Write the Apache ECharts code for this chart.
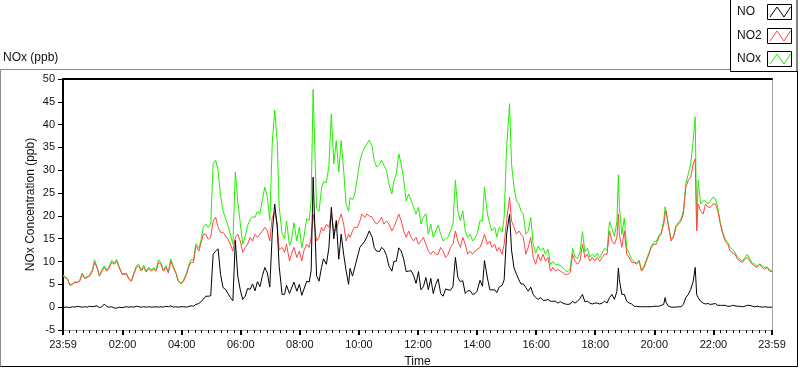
<!DOCTYPE html>
<html><head><meta charset="utf-8">
<script src="https://cdn.jsdelivr.net/npm/echarts@6/dist/echarts.min.js"></script>
<style>html,body{margin:0;padding:0;background:#fff}#c{width:800px;height:369px}</style>
</head><body><div id="c"></div>
<script>
// minutes after 23:59 (start of record)
const times = [
0,4,9,14,19,24,29,34,39,44,49,54,60,64,69,74,79,84,89,94,99,104,109,114,120,124,129,134,139,144,149,154,159,164,169,174,180,184,189,194,199,204,209,214,219,224,229,234,240,
245,251,255,260,265,270,276,280,
285,290,295,300,305,310,315,320,325,330,335,340,345,350,355,360,365,370,375,380,385,390,395,400,405,410,415,420,425,430,435,439,445,450,454,460,464,469,475,480,485,489,495,500,504,508,515,520,525,529,535,540,545,550,555,560,565,570,575,580,
583,588,592,598,603,607,613,617,622,628,632,637,643,647,652,657,662,668,672,677,682,687,692,697,702,707,712,717,722,727,732,737,742,747,752,757,762,767,772,777,782,787,792,797,802,807,812,817,822,827,832,837,841,847,852,856,862,867,871,877,881,886,892,896,901,907,911,916,921,926,
930,935,940,945,950,955,960,965,970,975,980,985,990,995,1000,1005,1010,1015,1020,1025,1030,1035,1040,1045,1050,1055,1060,1065,1070,1075,1080,1085,1090,1095,1100,1105,1110,1115,1120,1125,1128,1130,1135,1140,1145,1150,1155,1160,1165,1170,1175,1180,1185,1190,1195,1200,1205,1210,1215,1220,1223,1225,1230,1235,1240,1245,1250,1255,1260,1265,1270,1275,1280,1284,1287,1290,1295,1300,1305,1310,1315,1320,1325,1330,1335,1340,1345,1350,1355,1360,1365,1370,1375,1380,1385,1390,1395,1400,1405,1410,1415,1420,1425,1430,1435,1440
];

const no2Values = [
6.8,7.0,6.1,4.8,5.0,5.4,5.4,5.7,7.2,6.3,6.5,6.8,7.9,9.8,8.7,6.8,7.9,8.7,7.9,8.7,9.8,9.4,10.1,8.7,7.2,6.8,7.2,6.1,5.7,7.2,8.7,9.0,7.9,8.7,7.7,8.4,7.9,8.4,7.9,9.8,9.4,7.9,8.7,7.5,10.1,8.7,7.5,5.7,5.1,
5.7,7.2,8.7,9.8,9.8,13.4,12.3,12.3,
16.0,16.0,14.9,15.3,18.9,19.7,17.5,16.4,16.4,15.6,14.9,13.8,12.3,15.3,16.0,14.5,12.0,13.1,13.8,15.3,14.5,16.0,15.3,16.0,16.7,17.5,16.7,14.5,19.7,20.8,18.2,12.5,13.1,12.0,13.8,10.1,11.6,13.1,10.9,12.3,10.1,12.3,13.8,13.1,15.3,20.4,14.5,15.3,17.5,16.7,18.2,17.5,20.4,16.7,17.0,18.9,20.4,18.2,14.5,16.0,
15.3,16.7,17.5,17.5,18.9,20.4,19.7,20.4,20.0,19.7,18.9,18.2,18.9,19.7,18.2,18.9,18.2,16.7,17.5,18.9,20.4,18.9,16.7,15.3,16.7,15.3,14.5,15.3,13.8,14.5,15.3,13.8,12.3,11.6,12.3,11.6,11.6,13.1,12.3,10.9,11.6,13.1,13.8,16.7,14.5,13.1,15.3,13.8,11.6,12.3,11.6,12.3,12.5,13.1,14.5,16.0,13.8,14.5,13.1,13.8,12.3,13.1,11.6,13.8,18.9,24.1,18.9,17.5,16.0,16.7,
16.0,15.3,11.6,13.1,15.3,10.9,9.4,11.6,10.1,11.6,10.1,10.9,7.9,8.7,7.9,8.3,7.9,7.6,7.2,7.2,7.6,11.6,10.1,9.4,10.1,13.8,10.9,11.6,10.1,10.9,10.1,10.9,10.1,10.9,11.6,11.6,16.7,14.5,13.8,15.3,20.4,16.0,13.1,16.7,11.6,10.9,9.8,9.8,9.4,10.1,7.9,8.7,10.1,11.6,13.1,13.8,13.8,15.3,16.0,18.2,20.4,21.1,17.5,14.5,15.3,17.5,18.2,18.9,20.4,26.3,27.8,28.5,31.4,32.5,16.7,22.6,21.1,20.4,22.6,21.9,21.9,22.6,22.6,21.1,18.2,16.0,14.5,13.8,12.3,11.9,11.6,10.5,10.1,9.8,10.5,10.9,10.1,9.4,9.0,8.7,9.4,8.7,8.3,8.7,7.9,7.8
];

const noxValues = [
7.0,7.1,6.3,4.9,5.1,5.6,5.5,5.9,7.5,6.4,6.7,7.0,8.3,10.4,8.9,6.9,8.2,9.1,8.1,9.0,10.3,9.6,10.5,8.9,7.3,7.0,7.4,6.2,5.8,7.5,9.1,9.4,8.1,9.2,7.9,8.8,8.1,8.7,8.1,10.4,9.7,8.1,9.1,7.7,10.6,9.0,7.7,5.9,5.2,
6.0,7.5,9.1,10.4,10.3,13.9,13.0,14.5,
17.5,18.2,17.5,18.2,31.4,32.2,30.0,24.3,21.1,19.5,17.9,16.0,13.8,29.6,23.3,18.4,13.8,15.5,17.9,19.2,19.8,19.7,21.0,20.4,23.6,26.3,24.1,19.0,36.0,43.2,36.5,22.0,16.2,15.0,18.9,13.5,14.6,18.5,14.5,17.5,13.0,15.2,19.4,19.0,23.5,47.7,21.6,21.0,26.0,27.5,27.3,31.0,42.3,31.4,36.5,29.6,36.5,30.0,22.5,21.0,
24.0,23.5,24.5,28.5,32.0,33.6,35.1,35.8,36.6,35.1,32.2,30.7,31.4,32.2,31.0,30.0,27.0,24.8,27.8,29.2,33.6,31.4,27.8,23.3,24.8,23.5,21.9,20.4,21.9,18.2,19.7,20.5,16.0,18.2,15.3,16.7,18.0,16.0,14.5,15.0,15.3,16.7,18.2,27.8,21.1,18.9,21.1,16.7,15.3,16.0,14.5,15.3,16.0,19.0,18.9,26.3,20.4,18.2,16.7,17.5,15.3,17.5,16.5,19.7,35.0,44.6,31.4,26.3,23.3,22.6,
21.1,20.4,16.0,16.7,19.7,13.8,11.8,13.4,12.4,13.0,11.6,12.7,9.3,10.0,9.3,9.3,9.2,8.6,8.0,7.8,8.3,12.9,11.0,10.7,12.0,16.6,12.1,12.9,11.0,11.6,11.0,11.8,10.8,11.8,12.9,12.5,18.8,17.3,15.5,18.8,29.0,22.0,15.9,19.5,12.9,11.8,10.5,10.0,9.6,10.3,8.1,9.0,10.5,11.9,13.4,14.2,14.5,15.6,16.4,18.9,22.0,21.9,17.9,14.9,15.6,17.9,18.6,19.3,21.1,27.0,29.2,31.4,36.6,41.7,17.2,27.8,22.6,23.3,23.3,22.6,23.3,24.1,23.8,21.9,18.6,16.4,14.9,14.2,13.1,12.6,11.9,10.9,10.5,10.1,10.9,11.6,10.5,9.7,9.4,9.0,9.5,9.0,8.7,8.8,8.3,7.9
];

const noValues = [
0.0,0.1,0.0,-0.1,0.1,0.0,0.2,0.1,0.0,0.1,0.0,0.2,0.1,0.0,0.3,-0.1,0.1,0.7,0.1,0.0,0.1,-0.2,-0.2,0.0,-0.1,0.0,0.1,0.0,0.1,0.0,0.2,0.1,0.0,0.1,0.0,0.1,0.0,0.2,0.1,0.0,0.1,0.0,0.2,0.1,0.3,0.0,0.1,0.0,0.1,
0.1,0.0,0.2,0.3,0.2,0.6,0.8,1.0,
1.7,2.4,2.4,2.5,11.6,12.3,12.8,7.2,4.3,3.9,3.0,2.1,1.4,14.6,6.8,3.8,1.7,2.4,4.1,3.9,5.1,3.6,5.6,4.5,6.9,8.7,7.5,4.4,16.2,22.6,17.8,9.0,2.8,2.8,4.8,3.0,2.8,5.5,3.5,5.0,2.6,2.8,5.7,5.5,8.0,28.5,6.9,5.7,8.7,10.6,9.4,13.0,21.9,15.0,19.0,10.5,16.0,11.6,8.0,5.0,
8.5,6.8,7.0,11.0,13.1,13.1,14.5,15.4,16.7,15.3,13.1,12.3,12.2,13.1,12.6,11.3,9.0,7.9,10.0,10.1,13.0,12.3,10.5,7.8,7.9,8.0,7.0,5.2,7.8,3.8,4.5,6.5,3.8,6.3,3.0,5.0,6.2,3.0,2.4,4.0,3.8,3.7,4.5,10.9,6.5,5.6,5.8,3.0,3.6,3.6,2.8,3.0,3.5,5.9,4.6,10.2,6.4,3.8,3.7,3.8,3.2,4.4,4.8,6.0,16.0,20.4,12.5,8.6,7.2,6.0,
5.1,5.1,4.3,3.5,4.4,2.8,2.1,1.7,2.1,1.5,1.5,1.7,1.3,1.3,1.3,0.9,1.2,0.9,0.7,0.6,0.7,1.3,0.9,1.3,1.9,2.8,1.2,1.3,0.9,0.7,0.9,0.9,0.7,0.9,1.3,0.9,2.1,2.8,1.7,3.5,8.6,6.0,2.8,2.8,1.3,0.9,0.7,0.2,0.2,0.1,0.1,0.1,0.1,0.1,0.1,0.2,0.2,0.2,0.4,0.6,2.1,1.0,0.2,0.0,0.0,0.0,0.1,0.1,0.6,2.1,2.8,3.9,5.7,8.7,2.8,2.1,1.3,0.9,0.7,0.8,0.6,0.7,0.8,0.4,0.4,0.4,0.4,0.2,0.2,0.4,0.3,0.2,0.2,0.1,0.2,0.4,0.4,0.2,0.1,0.2,0.1,0.0,0.1,0.0,0.0,0.0
];

const seriesNames = ['NO', 'NO2', 'NOx'];
const seriesColors = ['#000000', '#ff4646', '#22ee00'];
// x tick positions (minutes after 23:59) and their labels
const xTickMinutes = [0,121,241,361,481,601,721,841,961,1081,1201,1321,1440];
const xTickLabels = ['23:59','02:00','04:00','06:00','08:00','10:00','12:00','14:00','16:00','18:00','20:00','22:00','23:59'];

const minorTicks = [];
for (let i = 0; i < xTickMinutes.length - 1; i++) {
  const a = xTickMinutes[i], b = xTickMinutes[i + 1];
  for (let k = 1; k < 9; k++) minorTicks.push(a + (b - a) * k / 9);
}

const pair = vals => times.map((t, i) => [t, vals[i]]);
const TXT = '"Liberation Sans", Arial, sans-serif';

const chart = echarts.init(document.getElementById('c'), null, {renderer: 'canvas'});
const swatchY = [4, 28, 51];
const legendGraphics = [];
legendGraphics.push({type: 'rect', shape: {x: 730.5, y: -1.5, width: 66.5, height: 73}, style: {fill: '#fff', stroke: '#000', lineWidth: 1}, z: 10});
seriesNames.forEach((n, i) => {
  const sy = swatchY[i];
  legendGraphics.push({type: 'text', style: {text: n, x: 737, y: sy + 8, fill: '#111', font: '12px ' + TXT, verticalAlign: 'middle'}, z: 11});
  legendGraphics.push({type: 'rect', shape: {x: 767.5, y: sy + 0.5, width: 24, height: 15}, style: {fill: '#fff', stroke: '#000', lineWidth: 1}, z: 11});
  legendGraphics.push({type: 'polyline', shape: {points: [[770, sy + 13], [777, sy + 3], [784, sy + 13], [790.5, sy + 3]]}, style: {stroke: seriesColors[i], lineWidth: 1, fill: null}, z: 12});
});

const option = {
  animation: false,
  backgroundColor: '#fff',
  textStyle: {fontFamily: TXT},
  title: {text: 'NOx (ppb)', left: 3, top: 52, padding: 0, textStyle: {fontSize: 12, fontWeight: 'normal', color: '#111', fontFamily: TXT}},
  grid: {left: 63, top: 79, right: 28, bottom: 39, containLabel: false, outerBoundsMode: 'none'},
  graphic: [
    {type: 'polyline', shape: {points: [[0.5, 366.5], [0.5, 69.5], [731, 69.5]]}, style: {stroke: '#8a8a8a', lineWidth: 1, fill: null}, z: 5},
    {type: 'polyline', shape: {points: [[0.5, 366.5], [797.5, 366.5], [797.5, 71]]}, style: {stroke: '#000', lineWidth: 1, fill: null}, z: 5}
  ].concat(legendGraphics),
  xAxis: [
    {type: 'value', min: 0, max: 1440, position: 'bottom',
     name: 'Time', nameLocation: 'middle', nameGap: 26, nameMoveOverlap: false,
     nameTextStyle: {fontSize: 12, color: '#111', fontFamily: TXT},
     axisLine: {show: true, onZero: false, lineStyle: {color: '#a0a0a0', width: 1}},
     axisTick: {show: true, customValues: xTickMinutes, length: 5, lineStyle: {color: '#000', width: 2}},
     axisLabel: {show: true, customValues: xTickMinutes, margin: 9, fontSize: 11, color: '#111', fontFamily: TXT,
       showMinLabel: true, showMaxLabel: true, hideOverlap: false,
       formatter: v => { const i = xTickMinutes.indexOf(Math.round(v)); return i >= 0 ? xTickLabels[i] : ''; }},
     splitLine: {show: false}},
    {type: 'value', min: 0, max: 1440, position: 'bottom',
     axisLine: {show: false, onZero: false},
     axisTick: {show: true, customValues: minorTicks, length: 3, lineStyle: {color: '#000', width: 1}},
     axisLabel: {show: false}, splitLine: {show: false}},
    {type: 'value', min: 0, max: 1440, position: 'top',
     axisLine: {show: true, onZero: false, lineStyle: {color: '#000', width: 2}},
     axisTick: {show: false}, axisLabel: {show: false}, splitLine: {show: false}}
  ],
  yAxis: [
    {type: 'value', min: -5, max: 50, interval: 5, position: 'left',
     name: 'NOx Concentration (ppb)', nameLocation: 'middle', nameGap: 26, nameRotate: 90, nameMoveOverlap: false,
     nameTextStyle: {fontSize: 12, color: '#111', fontFamily: TXT},
     axisLine: {show: true, onZero: false, lineStyle: {color: '#000', width: 2}},
     axisTick: {show: true, length: 5, lineStyle: {color: '#000', width: 1}},
     axisLabel: {margin: 8, fontSize: 11, color: '#111', fontFamily: TXT},
     splitLine: {show: false}},
    {type: 'value', min: -5, max: 50, interval: 5, position: 'right',
     axisLine: {show: true, onZero: false, lineStyle: {color: '#a0a0a0', width: 1}},
     axisTick: {show: false}, axisLabel: {show: false}, splitLine: {show: false}}
  ],
  series: [
    {name: 'NOx', type: 'line', data: pair(noxValues), xAxisIndex: 0, yAxisIndex: 0, showSymbol: false, symbol: 'none', z: 2,
     lineStyle: {color: seriesColors[2], width: 1}, itemStyle: {color: seriesColors[2]}},
    {name: 'NO2', type: 'line', data: pair(no2Values), xAxisIndex: 0, yAxisIndex: 0, showSymbol: false, symbol: 'none', z: 3,
     lineStyle: {color: seriesColors[1], width: 1}, itemStyle: {color: seriesColors[1]}},
    {name: 'NO', type: 'line', data: pair(noValues), xAxisIndex: 0, yAxisIndex: 0, showSymbol: false, symbol: 'none', z: 4,
     lineStyle: {color: seriesColors[0], width: 1}, itemStyle: {color: seriesColors[0]}}
  ]
};
chart.setOption(option);
</script></body></html>
